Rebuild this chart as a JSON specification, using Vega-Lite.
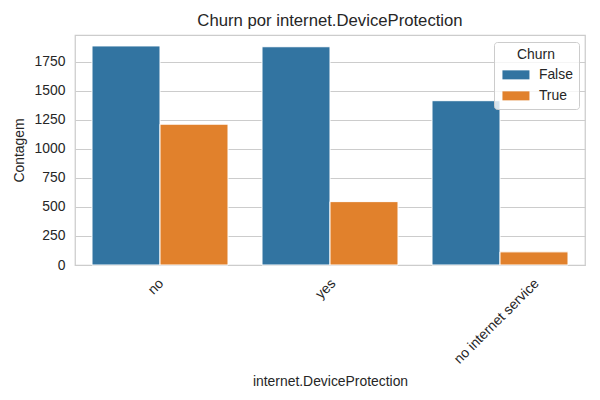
{
  "$schema": "https://vega.github.io/schema/vega-lite/v6.json",
  "width": 510,
  "height": 230,
  "autosize": {"type": "none"},
  "padding": {"left": 75, "top": 35, "right": 15, "bottom": 135},
  "background": "white",
  "title": {"text": "Churn por internet.DeviceProtection", "font": "Liberation Sans", "fontSize": 16.7, "fontWeight": "normal", "color": "#262626", "offset": 5, "anchor": "middle"},
  "data": {"values": [
    {"cat": "no", "Churn": "False", "count": 1884},
    {"cat": "no", "Churn": "True", "count": 1211},
    {"cat": "yes", "Churn": "False", "count": 1877},
    {"cat": "yes", "Churn": "True", "count": 545},
    {"cat": "no internet service", "Churn": "False", "count": 1413},
    {"cat": "no internet service", "Churn": "True", "count": 113}
  ]},
  "config": {
    "view": {"stroke": "#cccccc", "strokeWidth": 1.25},
    "font": "Liberation Sans",
    "axis": {"labelFont": "Liberation Sans", "titleFont": "Liberation Sans", "labelColor": "#262626", "titleColor": "#262626", "labelFontSize": 13.9, "titleFontSize": 13.9, "titleFontWeight": "normal", "domain": false, "ticks": false},
    "legend": {"labelFont": "Liberation Sans", "titleFont": "Liberation Sans"}
  },
  "mark": {"type": "bar", "stroke": "white", "strokeWidth": 1},
  "encoding": {
    "x": {
      "field": "cat", "type": "nominal", "sort": ["no", "yes", "no internet service"],
      "scale": {"paddingInner": 0.2, "paddingOuter": 0.1},
      "title": "internet.DeviceProtection",
      "axis": {
        "labelAngle": -45, "labelAlign": "right", "labelBaseline": "middle",
        "labelPadding": 16,
        "labelOffset": {"condition": [{"test": "datum.value == 'no internet service'", "value": 37}, {"test": "datum.value == 'yes'", "value": 3.5}], "value": 1.5},
        "grid": false, "titlePadding": 8
      }
    },
    "xOffset": {"field": "Churn", "type": "nominal", "sort": ["False", "True"], "scale": {"paddingInner": 0, "paddingOuter": 0}},
    "y": {
      "field": "count", "type": "quantitative", "title": "Contagem",
      "scale": {"domain": [0, 1978], "nice": false},
      "axis": {"values": [0, 250, 500, 750, 1000, 1250, 1500, 1750], "format": "d", "grid": true, "gridColor": "#cccccc", "gridWidth": 1, "labelPadding": 10, "titlePadding": 8}
    },
    "color": {
      "field": "Churn", "type": "nominal", "sort": ["False", "True"],
      "scale": {"domain": ["False", "True"], "range": ["#3274a1", "#e1812c"]},
      "legend": {
        "orient": "none", "legendX": 419, "legendY": 7,
        "title": "Churn", "titleFontSize": 13.9, "titleFontWeight": "normal", "titleColor": "#262626",
        "titleAnchor": "middle", "titleAlign": "center", "titlePadding": 6,
        "labelFontSize": 13.9, "labelColor": "#262626", "labelOffset": 16,
        "symbolType": "M-3,-1H3V1H-3Z", "symbolSize": 81, "symbolOffset": 9, "symbolStrokeWidth": 0, "symbolOpacity": 1,
        "rowPadding": 6, "padding": 6,
        "strokeColor": "#cccccc", "fillColor": "rgba(255,255,255,0.8)", "cornerRadius": 3
      }
    }
  }
}
